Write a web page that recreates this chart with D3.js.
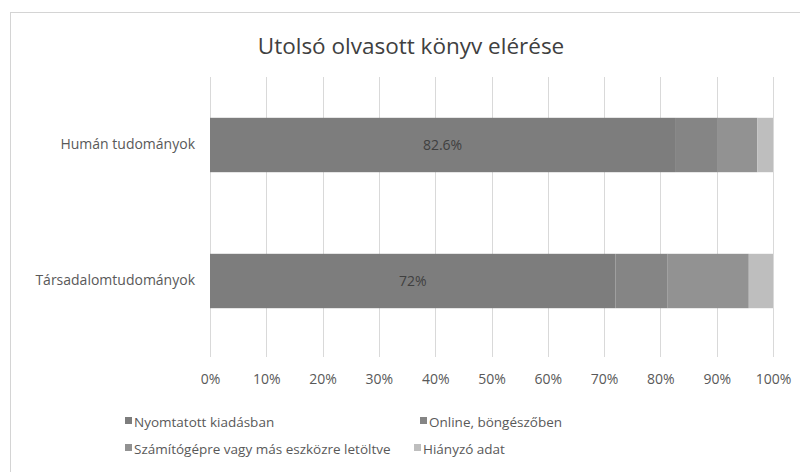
<!DOCTYPE html>
<html lang="hu">
<head>
    <meta charset="UTF-8">
    <title>Utolsó olvasott könyv elérése</title>
    <script src="https://d3js.org/d3.v7.min.js"></script>
    <style>
        body {
            margin: 0;
            background-color: #ffffff;
            font-family: "Open Sans", Lato, sans-serif;
        }
    </style>
</head>
<body>
    <svg id="chart" width="800" height="472"></svg>

    <script>
        // data
        const categories = ["Humán tudományok", "Társadalomtudományok"];
        const seriesNames = ["Nyomtatott kiadásban", "Online, böngészőben", "Számítógépre vagy más eszközre letöltve", "Hiányzó adat"];
        const printed = [82.6, 72];
        const online = [7.6, 9.3];
        const downloaded = [7.0, 14.4];
        const missing = [2.8, 4.3];
        const barLabels = ["82.6%", "72%"];
        const tickValues = [0, 10, 20, 30, 40, 50, 60, 70, 80, 90, 100];

        const colors = ["#7d7d7d", "#858585", "#929292", "#bebebe"];

        const svg = d3.select("#chart");

        // chart frame
        svg.append("rect")
            .attr("x", 10.5).attr("y", 12.5)
            .attr("width", 800).attr("height", 470)
            .attr("fill", "#fff")
            .attr("stroke", "#d4d4d4");

        svg.append("text")
            .attr("x", 411).attr("y", 54)
            .attr("text-anchor", "middle")
            .attr("font-size", 22.5)
            .attr("fill", "#404040")
            .text("Utolsó olvasott könyv elérése");

        const margin = { top: 77, left: 210, right: 27, bottom: 123 };
        const width = 800 - margin.left - margin.right;
        const height = 472 - margin.top - margin.bottom;

        const g = svg.append("g")
            .attr("transform", `translate(${margin.left},${margin.top})`);

        const x = d3.scaleLinear().domain([0, 100]).range([0, width]);
        const y = d3.scaleBand().domain(categories).range([0, height])
            .paddingInner(0.6).paddingOuter(0.3);

        // grid
        g.selectAll(".grid")
            .data(tickValues)
            .enter().append("line")
            .attr("x1", d => Math.round(x(d)) + 0.5)
            .attr("x2", d => Math.round(x(d)) + 0.5)
            .attr("y1", 0)
            .attr("y2", height + 8)
            .attr("stroke", "#d9d9d9");

        // stacked bars
        const rows = categories.map((c, i) => ({
            cat: c,
            s0: printed[i], s1: online[i], s2: downloaded[i], s3: missing[i]
        }));
        const stack = d3.stack().keys(["s0", "s1", "s2", "s3"]);
        const layers = stack(rows);

        g.selectAll(".layer")
            .data(layers)
            .enter().append("g")
            .attr("fill", (d, i) => colors[i])
            .selectAll("rect")
            .data(d => d)
            .enter().append("rect")
            .attr("x", d => x(d[0]))
            .attr("y", d => y(d.data.cat))
            .attr("width", d => x(d[1]) - x(d[0]))
            .attr("height", y.bandwidth());

        // labels on first segment
        g.selectAll(".lbl")
            .data(rows)
            .enter().append("text")
            .attr("x", d => x(d.s0 / 2))
            .attr("y", d => y(d.cat) + y.bandwidth() / 2 + 5)
            .attr("text-anchor", "middle")
            .attr("font-size", 14)
            .attr("fill", "#404040")
            .text((d, i) => barLabels[i]);

        // axes
        const xAxis = g.append("g")
            .attr("transform", `translate(0,${height})`)
            .call(d3.axisBottom(x).tickValues(tickValues).tickFormat(d => d + "%").tickSize(0).tickPadding(25));
        xAxis.select(".domain").remove();
        xAxis.selectAll("text").attr("font-size", 14).attr("fill", "#595959")
            .attr("font-family", "'Open Sans', sans-serif");

        const yAxis = g.append("g")
            .call(d3.axisLeft(y).tickSize(0).tickPadding(15));
        yAxis.select(".domain").remove();
        yAxis.selectAll("text").attr("font-size", 14).attr("fill", "#595959")
            .attr("font-family", "'Open Sans', sans-serif");

        // legend
        const legendPos = [[125, 427], [420, 427], [125, 454], [414, 454]];
        const legend = svg.selectAll(".legend")
            .data(seriesNames)
            .enter().append("g")
            .attr("transform", (d, i) => `translate(${legendPos[i][0]},${legendPos[i][1]})`);
        legend.append("rect")
            .attr("x", 0).attr("y", -10)
            .attr("width", 7).attr("height", 7)
            .attr("fill", (d, i) => colors[i]);
        legend.append("text")
            .attr("x", 9).attr("y", 0)
            .attr("font-size", 13.5)
            .attr("fill", "#595959")
            .text(d => d);
    </script>
</body>
</html>
